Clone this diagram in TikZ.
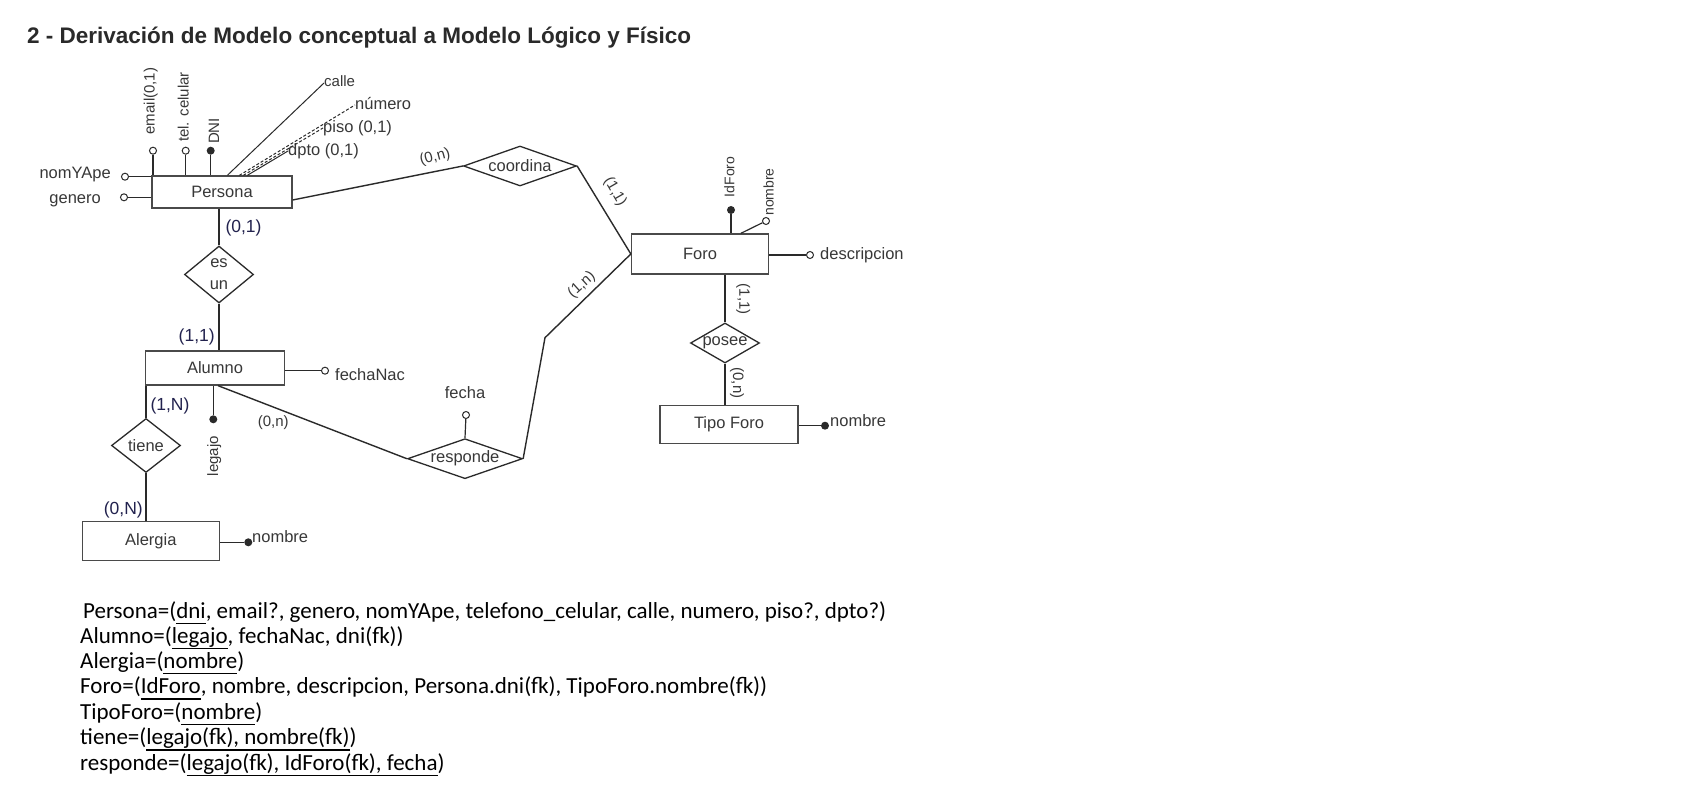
\documentclass[tikz,border=0pt]{standalone}
\usepackage{fontspec}
\setmainfont{Liberation Sans}
\newfontfamily\hand{Carlito}
\usetikzlibrary{shapes.geometric,calc}
\definecolor{ink}{HTML}{2A2A2A}
\definecolor{boxc}{HTML}{4A4A4A}
\definecolor{cardc}{HTML}{22224E}
\definecolor{txt}{HTML}{383838}
\newsavebox\ulbox
\newcommand\hul[2][6pt]{\sbox\ulbox{#2}\rlap{\rule[-#1]{\wd\ulbox}{1.4pt}}\usebox\ulbox}
\begin{document}
\begin{tikzpicture}[x=1pt,y=-1pt,
  lbl/.style={font=\fontsize{16.5}{19}\selectfont, text=txt, inner sep=0pt, text height=12pt, text depth=3.3pt},
  rlbl/.style={font=\fontsize{15}{18}\selectfont, text=txt, inner sep=0pt, text height=11pt, text depth=3pt},
  tlbl/.style={font=\fontsize{14}{17}\selectfont, text=txt, inner sep=0pt, text height=10.2pt, text depth=2.8pt},
  ent/.style={draw=boxc, line width=1.3pt, inner sep=0pt, font=\fontsize{16.5}{19}\selectfont, text=txt},
  rel/.style={diamond, draw=ink, line width=1.3pt, inner sep=0pt, font=\fontsize{16.5}{19}\selectfont, text=txt},
  att/.style={circle, draw=ink, fill=white, line width=1pt, inner sep=0pt, minimum size=7pt},
  keyatt/.style={circle, fill=ink, inner sep=0pt, minimum size=8pt},
  rl/.style={draw=ink, line width=1.4pt},
  al/.style={draw=ink, line width=1.2pt},
  card/.style={font=\fontsize{17.5}{20}\selectfont, text=cardc, inner sep=0pt},
  gcard/.style={font=\fontsize{15}{18}\selectfont, text=txt, inner sep=0pt},
  rowtxt/.style={font=\hand\fontsize{23}{26}\selectfont, text=black, inner sep=0pt, anchor=base west}
]
\useasboundingbox (0,0) rectangle (1687,786);
\fill[white] (0,0) rectangle (1687,786);

% title
\node[anchor=base west, font=\bfseries\fontsize{22.5}{27}\selectfont, text=ink, inner sep=0pt] (title) at (27,43.5)
  {2 - Derivación de Modelo conceptual a Modelo Lógico y Físico};

% entities
\node[ent, minimum width=140pt, minimum height=32pt] (persona) at (222,192) {Persona};
\node[ent, minimum width=139pt, minimum height=34pt] (alumno) at (215,368) {Alumno};
\node[ent, minimum width=137pt, minimum height=39pt] (alergia) at (150.8,541.3) {Alergia};
\node[ent, minimum width=137pt, minimum height=40pt] (foro) at (700,254) {Foro};
\node[ent, minimum width=138pt, minimum height=38pt] (tipoforo) at (729,424.5) {Tipo Foro};

% relationships
\node[rel, minimum width=113pt, minimum height=40pt, aspect=2.8] (coordina) at (520,166) {coordina};
\node[rel, minimum width=69pt, minimum height=57pt, aspect=1.25, align=center, font=\fontsize{16.5}{22}\selectfont] (esun) at (219,274.5) {es\\un};
\node[rel, minimum width=69pt, minimum height=54pt, aspect=1.28] (tiene) at (146,445.5) {tiene};
\node[rel, minimum width=69pt, minimum height=40pt, aspect=1.73] (posee) at (725,343) {posee};
\node[rel, minimum width=115pt, minimum height=40pt, aspect=2.9] (responde) at (465,458.7) {responde};

% Persona attributes
\node[att] (emailc) at (153,150.7) {};
\node[att] (telc) at (185.7,150.7) {};
\node[keyatt] (dnic) at (210.7,150.7) {};
\node[rlbl, rotate=90] (emaill) at (150.5,101) {email(0,1)};
\node[rlbl, rotate=90] (tell) at (184.5,107) {tel. celular};
\node[rlbl, rotate=90] (dnil) at (215,131) {DNI};
\draw[al] (emailc) -- (emailc |- persona.north);
\draw[al] (telc) -- (telc |- persona.north);
\draw[al] (dnic) -- (dnic |- persona.north);

\node[att] (nomc) at (125,176.7) {};
\node[lbl, anchor=east] (noml) at (111,174) {nomYApe};
\node[att] (genc) at (124,197.3) {};
\node[lbl, anchor=east] (genl) at (101,199) {genero};
\draw[al] (nomc) -- (nomc -| persona.west);
\draw[al] (genc) -- (genc -| persona.west);

\node[rlbl, anchor=west] (callel) at (324,83) {calle};
\node[lbl, anchor=west] (numl) at (355,105) {número};
\node[lbl, anchor=west] (pisol) at (323,128) {piso (0,1)};
\node[lbl, anchor=west] (dptol) at (288,151) {dpto (0,1)};
\draw[al, line width=1pt] ([xshift=76pt]persona.north west) -- (callel.west);
\draw[al, line width=1pt, densely dashed] ([xshift=88pt]persona.north west) -- (numl.west);
\draw[al, line width=1pt, densely dashed] ([xshift=92pt]persona.north west) -- (pisol.west);
\draw[al, line width=1pt] ([xshift=96pt]persona.north west) -- (dptol.west);

% Foro attributes
\node[keyatt] (idforoc) at (731,210) {};
\node[tlbl, rotate=90] (idforol) at (730.7,177) {IdForo};
\draw[al] (idforoc) -- (idforoc |- foro.north);
\node[att] (fnomc) at (766,221) {};
\node[tlbl, rotate=90] (fnoml) at (770,192) {nombre};
\draw[al] ([xshift=110pt]foro.north west) -- (fnomc);
\node[att] (descc) at (810,255) {};
\node[lbl, anchor=west] (descl) at (820,255) {descripcion};
\draw[al] (descc) -- (descc -| foro.east);

% Tipo Foro attribute
\node[keyatt] (tfnc) at (825,425.7) {};
\node[lbl, anchor=west] (tfnl) at (830,422) {nombre};
\draw[al] (tfnc) -- (tfnc -| tipoforo.east);

% Alergia attribute
\node[keyatt] (alnc) at (248.3,542.3) {};
\node[lbl, anchor=west] (alnl) at (252,538.5) {nombre};
\draw[al] (alnc) -- (alnc -| alergia.east);

% Alumno attributes
\node[att] (fnacc) at (325,370.7) {};
\node[lbl, anchor=west] (fnacl) at (335,375.7) {fechaNac};
\draw[al] (fnacc) -- (fnacc -| alumno.east);
\node[keyatt] (legc) at (213.3,419.3) {};
\node[rlbl, rotate=90] (legl) at (214,456) {legajo};
\draw[al] (legc) -- (legc |- alumno.south);

% responde attribute
\node[att] (fechac) at (466,415) {};
\node[lbl] (fechal) at (465,394) {fecha};
\draw[al] (fechac) -- (responde.north);

% relationship connectors
\coordinate (bend) at (545,337.7);
\draw[rl] (esun.north) -- (esun.north |- persona.south);
\draw[rl] (esun.south) -- (esun.south |- alumno.north);
\draw[rl] ([yshift=-8pt]persona.east) -- (coordina.west);
\draw[rl] (coordina.east) -- (foro.west);
\draw[rl] (responde.east) -- (bend) -- (foro.west);
\draw[rl] ([xshift=3pt]alumno.south) -- (responde.west);
\draw[rl] (tiene.north) -- (tiene.north |- alumno.south);
\draw[rl] (tiene.south) -- (tiene.south |- alergia.north);
\draw[rl] (posee.north) -- (posee.north |- foro.south);
\draw[rl] (posee.south) -- (posee.south |- tipoforo.north);

% cardinalities
\node[card] (c1) at (243.5,228) {(0,1)};
\node[card] (c2) at (196.7,336.7) {(1,1)};
\node[card] (c3) at (170,406) {(1,N)};
\node[card] (c4) at (123.3,510) {(0,N)};
\node[gcard] (c5) at (273.3,422.7) {(0,n)};
\node[gcard, rotate=15] (c6) at (435,157) {(0,n)};
\node[gcard, rotate=-60] (c7) at (615,192) {(1,1)};
\node[gcard, rotate=42] (c8) at (581.7,285) {(1,n)};
\node[gcard, rotate=-90] (c9) at (743.3,299.3) {(1,1)};
\node[gcard, rotate=-90] (c10) at (737,383) {(0,n)};

% relational schema
\node[rowtxt] (r1) at (83,618) {Persona=(\hul{dni}, email?, genero, nomYApe, telefono\_celular, calle, numero, piso?, dpto?)};
\node[rowtxt] (r2) at (80,643) {Alumno=(\hul{legajo}, fechaNac, dni(fk))};
\node[rowtxt] (r3) at (80,668) {Alergia=(\hul{nombre})};
\node[rowtxt] (r4) at (80,693.5) {Foro=(\hul{IdForo}, nombre, descripcion, Persona.dni(fk), TipoForo.nombre(fk))};
\node[rowtxt] (r5) at (80,719) {TipoForo=(\hul{nombre})};
\node[rowtxt] (r6) at (80,744.5) {tiene=(\hul{legajo(fk), nombre(fk)})};
\node[rowtxt] (r7) at (80,770) {responde=(\hul{legajo(fk), IdForo(fk), fecha})};
\end{tikzpicture}
\end{document}
